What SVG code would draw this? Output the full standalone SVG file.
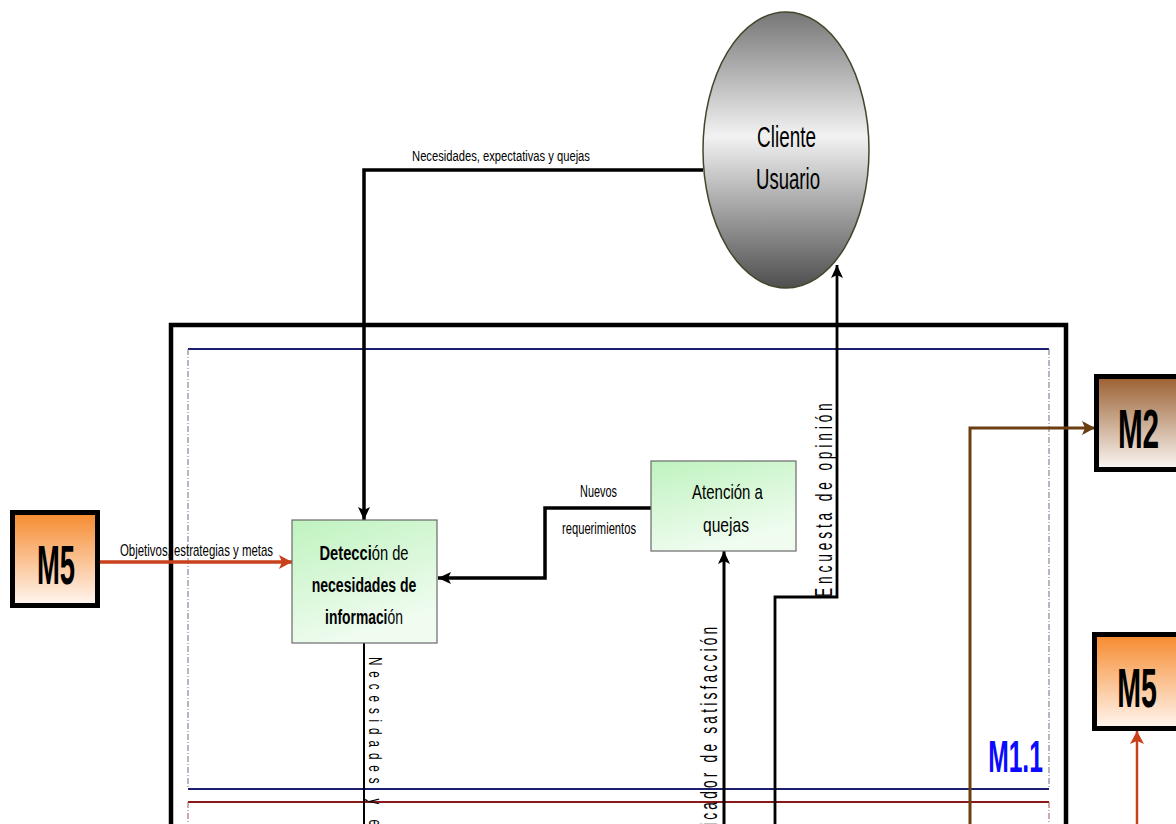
<svg xmlns="http://www.w3.org/2000/svg" width="1176" height="824" viewBox="0 0 1176 824">
<style>
text{font-family:"Liberation Sans",Arial,sans-serif;fill:#000}
.bold{font-weight:bold}
.mid{text-anchor:middle}
.blk{fill:none;stroke:#000;stroke-linejoin:miter}
.mbox{stroke:#000;stroke-width:5}
.green{fill:url(#gGreen);stroke:#6a6a6a;stroke-width:1.2}
.dashside{fill:none;stroke:#6c6c88;stroke-width:1;stroke-dasharray:6,2,1,2}
</style>
<defs>
<linearGradient id="gOrange" x1="0" y1="0" x2="0" y2="1">
<stop offset="0" stop-color="#f68a2e"/><stop offset="1" stop-color="#fff7f2"/>
</linearGradient>
<linearGradient id="gBrown" x1="0" y1="0" x2="0" y2="1">
<stop offset="0" stop-color="#9a5f30"/><stop offset="1" stop-color="#fbf8f5"/>
</linearGradient>
<linearGradient id="gGreen" x1="0" y1="0" x2="0.4" y2="1">
<stop offset="0" stop-color="#bff3bf"/><stop offset="1" stop-color="#f1fcf1"/>
</linearGradient>
<linearGradient id="gGray" x1="0" y1="0" x2="0" y2="1">
<stop offset="0" stop-color="#767676"/><stop offset="0.45" stop-color="#f2f2f2"/><stop offset="1" stop-color="#4e4e4e"/>
</linearGradient>
<marker id="aBlk" markerUnits="userSpaceOnUse" markerWidth="14" markerHeight="12" refX="13" refY="6" orient="auto">
<path d="M0,0 L13,6 L0,12 L3,6 z" fill="#000"/>
</marker>
<marker id="aRed" markerUnits="userSpaceOnUse" markerWidth="14" markerHeight="14" refX="13" refY="7" orient="auto">
<path d="M0,0 L13,7 L0,14 L3,7 z" fill="#c8411b"/>
</marker>
<marker id="aBrown" markerUnits="userSpaceOnUse" markerWidth="14" markerHeight="14" refX="13" refY="7" orient="auto">
<path d="M0,0 L13,7 L0,14 L3,7 z" fill="#6b3e12"/>
</marker>
</defs>
<rect width="1176" height="824" fill="#fff"/>

<g id="frames">
<path d="M171,826 V325 H1066 V826" fill="none" stroke="#000" stroke-width="4.5"/>
<line x1="188" y1="349" x2="1049" y2="349" stroke="#1e1e6e" stroke-width="2"/>
<line x1="188" y1="789" x2="1049" y2="789" stroke="#1e1e6e" stroke-width="2"/>
<line x1="188" y1="349" x2="188" y2="789" class="dashside"/>
<line x1="1049" y1="349" x2="1049" y2="789" class="dashside"/>
<line x1="188" y1="802" x2="1049" y2="802" stroke="#8b1818" stroke-width="2"/>
<line x1="188" y1="802" x2="188" y2="826" class="dashside" style="stroke:#a05050"/>
<line x1="1049" y1="802" x2="1049" y2="826" class="dashside" style="stroke:#a05050"/>
<text transform="translate(1015.5,772) scale(0.56,1)" class="bold mid" font-size="44" style="fill:#0a0aff">M1.1</text>
</g>

<g id="connectors">
<path d="M703,170 H364 V520" class="blk" stroke-width="3.5" marker-end="url(#aBlk)"/>
<path d="M651,508 H545 V578 H438" class="blk" stroke-width="3.5" marker-end="url(#aBlk)"/>
<path d="M724,826 V551" class="blk" stroke-width="3" marker-end="url(#aBlk)"/>
<path d="M775,826 V597 H837 V265" class="blk" stroke-width="2.8" marker-end="url(#aBlk)"/>
<path d="M364,643 V826" class="blk" stroke-width="2"/>
<path d="M100,562 H292" fill="none" stroke="#c8411b" stroke-width="3.5" marker-end="url(#aRed)"/>
<path d="M970,826 V428 H1095" fill="none" stroke="#6b3e12" stroke-width="3" marker-end="url(#aBrown)"/>
<path d="M1137,826 V731" fill="none" stroke="#c8411b" stroke-width="2.5" marker-end="url(#aRed)"/>
<text transform="translate(501,161) scale(0.747,1)" class="mid" font-size="15">Necesidades, expectativas y quejas</text>
<text transform="translate(196.5,556) scale(0.715,1)" class="mid" font-size="16">Objetivos, estrategias y metas</text>
<text transform="translate(598.5,497) scale(0.68,1)" class="mid" font-size="16">Nuevos</text>
<text transform="translate(599,534) scale(0.70,1)" class="mid" font-size="16">requerimientos</text>
<text transform="translate(832,597) rotate(-90) scale(0.6,1)" font-size="23" textLength="323" lengthAdjust="spacing">Encuesta de opinión</text>
<text transform="translate(717,826) rotate(-90) scale(0.6,1)" font-size="23" textLength="332" lengthAdjust="spacing">icador de satisfacción</text>
<text transform="translate(369,657) rotate(90) scale(0.65,1)" font-size="18" textLength="260" lengthAdjust="spacing">Necesidades y e</text>
</g>

<g id="cliente">
<ellipse cx="786" cy="150" rx="83" ry="138" fill="url(#gGray)" stroke="#45452a" stroke-width="1.5"/>
<text transform="translate(786.5,147) scale(0.63,1)" class="mid" font-size="30">Cliente</text>
<text transform="translate(788,189) scale(0.62,1)" class="mid" font-size="30">Usuario</text>
</g>

<g id="deteccion">
<rect x="292" y="520" width="145" height="123" class="green"/>
<text transform="translate(364,560) scale(0.70,1)" class="mid" font-size="21"><tspan font-weight="bold">Detecci</tspan>ón de</text>
<text transform="translate(364,592) scale(0.67,1)" class="mid bold" font-size="21">necesidades de</text>
<text transform="translate(364,624) scale(0.66,1)" class="mid" font-size="21"><tspan font-weight="bold">informaci</tspan>ón</text>
</g>

<g id="atencion">
<rect x="651" y="461" width="145" height="90" class="green"/>
<text transform="translate(727.5,499) scale(0.75,1)" class="mid" font-size="20">Atención a</text>
<text transform="translate(726,532) scale(0.78,1)" class="mid" font-size="20">quejas</text>
</g>

<g id="m5-left">
<rect x="12.5" y="512.5" width="85" height="93" fill="url(#gOrange)" class="mbox"/>
<text transform="translate(56,584) scale(0.49,1)" class="bold mid" font-size="56">M5</text>
</g>

<g id="m2">
<rect x="1096.5" y="376.5" width="100" height="93" fill="url(#gBrown)" class="mbox"/>
<text transform="translate(1138.5,448) scale(0.54,1)" class="bold mid" font-size="55">M2</text>
</g>

<g id="m5-right">
<rect x="1094.5" y="634.5" width="100" height="94" fill="url(#gOrange)" class="mbox"/>
<text transform="translate(1137,707) scale(0.51,1)" class="bold mid" font-size="56">M5</text>
</g>
</svg>
